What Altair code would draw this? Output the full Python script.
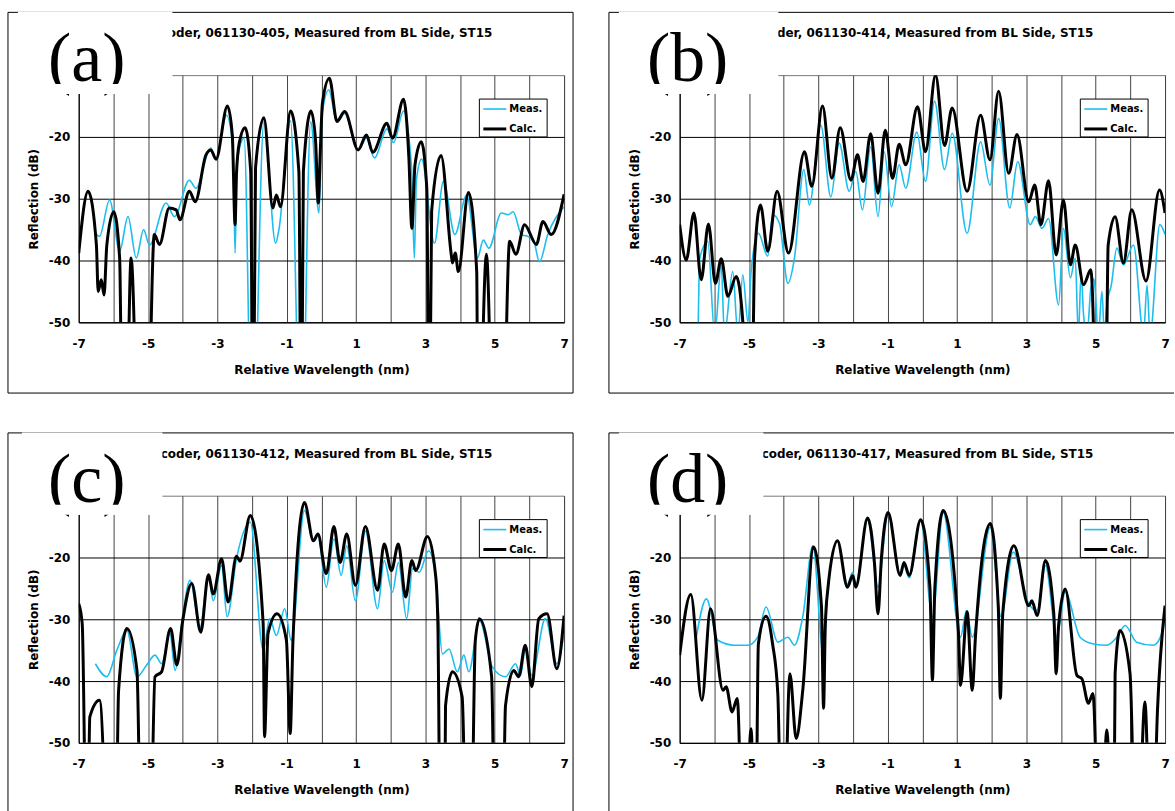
import altair as alt
import pandas as pd

# ---------------- data (relative wavelength in nm, reflection in dB; values below -50 lie off the chart) ----------------
A_CALC_NM = [-7.00,-6.73,-6.49,-6.44,-6.35,-6.27,-6.19,-5.99,-5.82,-5.73,-5.65,-5.49,-5.25,-5.04,-4.82,
             -4.67,-4.39,-4.19,-4.08,-3.81,-3.64,-3.33,-3.19,-3.04,-2.71,-2.57,-2.49,-2.45,-2.37,-2.20,-2.04,-1.97,-1.90,-1.66,-1.40,
             -1.30,-1.18,-0.89,-0.65,-0.58,-0.52,-0.30,-0.17,-0.09,-0.03,0.03,0.23,0.45,0.67,1.06,1.30,1.48,1.89,2.05,2.37,2.52,
             2.61,2.70,2.88,3.04,3.11,3.18,3.45,3.74,3.78,3.86,3.95,4.24,4.48,4.52,4.76,4.98,5.21,5.43,
             5.61,5.86,6.20,6.39,6.63,7.00]
A_CALC_DB = [-38.8,-28.8,-37.5,-45.0,-43.1,-45.6,-37.5,-32.1,-39.6,-75,-75,-39.6,-75,-75,-35.8,
             -37.4,-31.5,-31.8,-33.4,-28.8,-30.5,-22.9,-22.1,-23.6,-15.0,-19.7,-34.2,-26.0,-21.0,-18.5,-25.6,-75,-25.0,-16.9,-31.5,
             -29.4,-31.3,-15.8,-25.6,-75,-25.6,-15.8,-20.5,-30.7,-22.0,-14.5,-10.5,-17.5,-15.9,-22.1,-19.7,-22.5,-17.8,-20.2,-13.9,-23.0,
             -34.8,-24.5,-20.8,-28.3,-75,-32.0,-23.0,-38.8,-40.4,-38.8,-41.8,-29.0,-41.8,-75,-39.0,-75,-75,-36.9,
             -39.0,-34.2,-37.4,-33.7,-35.8,-29.3]
A_MEAS_NM = [-6.54,-6.40,-6.11,-5.82,-5.58,-5.34,-5.13,-4.96,-4.48,-4.24,-3.81,-3.62,-3.19,-3.04,-2.74,
             -2.55,-2.49,-2.43,-2.23,-1.99,-1.66,-1.32,-1.22,-0.89,-0.58,-0.31,-0.07,0.03,0.21,0.45,0.67,1.06,1.30,
             1.53,1.89,2.08,2.37,2.60,2.68,2.74,2.89,3.26,3.52,3.85,4.19,4.50,4.67,4.83,5.19,5.39,
             5.53,5.77,5.96,6.10,6.29,6.53,7.00]
A_MEAS_DB = [-35.3,-36.1,-30.2,-38.5,-32.9,-39.6,-35.0,-37.5,-30.7,-32.9,-27.0,-28.3,-21.8,-23.5,-16.5,
             -22.0,-38.8,-24.0,-20.2,-75,-17.5,-37.2,-34.8,-17.4,-75,-17.5,-32.3,-16.0,-12.4,-17.5,-16.2,-22.1,-20.2,
             -23.4,-18.7,-20.9,-15.8,-25.0,-39.6,-27.0,-23.6,-37.2,-27.2,-35.8,-29.4,-39.6,-36.7,-38.0,-32.3,-32.6,
             -32.1,-35.8,-36.1,-36.4,-40.2,-35.8,-31.3]

B_CALC_NM = [-7.00,-6.81,-6.59,-6.38,-6.17,-5.97,-5.80,-5.61,-5.37,-5.18,-5.05,-4.94,-4.84,-4.67,-4.46,
             -4.19,-3.86,-3.40,-3.19,-2.88,-2.61,-2.37,-2.06,-1.87,-1.71,-1.49,-1.28,-1.07,-0.86,-0.67,
             -0.48,-0.14,0.09,0.38,0.64,0.86,1.29,1.68,1.95,2.20,2.49,2.73,3.07,3.24,3.42,
             3.64,3.86,4.07,4.27,4.41,4.65,4.86,5.08,5.27,5.36,5.56,5.80,6.04,6.45,6.84,7.00]
B_CALC_DB = [-34.2,-39.9,-32.3,-43.1,-34.1,-43.7,-39.7,-45.8,-42.6,-49.8,-75,-75,-39.6,-31.0,-38.5,
             -28.8,-38.8,-22.4,-28.0,-15.0,-26.7,-18.5,-27.0,-22.9,-27.2,-19.5,-29.1,-18.9,-26.7,-21.2,
             -24.5,-15.1,-22.4,-10.0,-21.4,-15.3,-28.8,-16.5,-23.7,-12.6,-25.9,-19.6,-30.5,-27.8,-34.2,
             -27.1,-39.1,-30.2,-40.7,-37.5,-43.9,-41.5,-75,-75,-37.5,-32.9,-40.4,-31.8,-43.3,-28.6,-32.3]
B_MEAS_NM = [-6.47,-6.42,-6.19,-5.99,-5.80,-5.71,-5.47,-5.32,-5.18,-5.03,-4.94,-4.73,-4.46,-4.32,-4.12,
             -3.88,-3.69,-3.42,-3.26,-2.93,-2.64,-2.40,-2.11,-1.92,-1.73,-1.49,-1.28,-1.10,-0.89,-0.67,
             -0.48,-0.16,0.09,0.35,0.64,0.86,1.29,1.68,1.95,2.20,2.52,2.75,3.11,3.26,3.45,
             3.64,3.93,4.07,4.27,4.41,4.50,4.58,4.65,4.75,4.86,4.95,5.08,5.18,5.25,5.32,5.45,5.61,5.80,6.09,6.38,6.48,6.57,6.85,7.00]
B_MEAS_DB = [-52,-39.6,-36.9,-52,-40.7,-52,-41.8,-52,-42.3,-50,-41.8,-35.6,-39.3,-32.6,-34.0,
             -43.7,-39.6,-25.3,-31.0,-18.1,-29.7,-21.0,-28.8,-25.6,-31.8,-21.6,-32.9,-22.4,-31.3,-24.5,
             -28.3,-19.2,-27.2,-14.2,-25.3,-19.4,-35.6,-20.8,-27.8,-17.0,-31.5,-24.0,-34.2,-32.9,-34.8,
             -33.2,-47.2,-34.8,-42.8,-39.6,-52,-42.0,-48.8,-52,-44.5,-43.0,-52,-45.0,-52,-47.2,-44.0,-38.0,-40.7,-37.5,-52,-44.0,-52,-34.2,-35.8]

C_CALC_NM = [-7.00,-6.90,-6.76,-6.68,-6.40,-6.09,-5.95,-5.85,-5.61,-5.32,-5.18,-4.96,-4.80,-4.61,-4.35,
             -4.17,-4.00,-3.74,-3.48,-3.26,-3.12,-2.88,-2.69,-2.45,-2.35,-2.05,-1.68,-1.64,-1.54,-1.28,
             -1.01,-0.90,-0.82,-0.49,-0.23,-0.10,0.14,0.36,0.54,0.73,0.98,1.27,1.62,1.81,2.02,
             2.22,2.43,2.61,2.72,3.06,3.30,3.36,3.44,3.54,3.58,3.78,4.06,4.21,4.30,4.44,4.56,4.91,5.02,
             5.21,5.31,5.55,5.69,5.88,6.07,6.27,6.51,6.79,7.00]
C_CALC_DB = [-27.5,-30.7,-75,-45.8,-43.1,-75,-75,-41.5,-31.5,-38.3,-75,-75,-39.3,-38.5,-31.5,
             -37.4,-30.2,-24.2,-32.1,-22.8,-25.9,-20.2,-27.2,-19.8,-20.6,-13.2,-30.7,-49.0,-32.3,-29.1,
             -33.4,-48.5,-33.4,-11.1,-17.3,-16.2,-22.6,-15.0,-20.8,-16.2,-24.5,-15.0,-25.3,-17.8,-22.1,
             -17.8,-26.4,-20.5,-22.1,-16.6,-23.2,-31.0,-75,-75,-44.0,-38.5,-42.6,-75,-75,-33.4,-29.9,-39.3,-75,
             -75,-44.0,-38.3,-39.3,-34.2,-40.9,-29.9,-29.1,-38.0,-29.4]
C_MEAS_NM = [-6.52,-6.19,-5.90,-5.61,-5.32,-5.04,-4.80,-4.61,-4.37,-4.22,-4.03,-3.79,-3.50,-3.26,-3.12,
             -2.88,-2.72,-2.45,-2.05,-1.68,-1.49,-1.30,-1.06,-0.87,-0.49,-0.23,-0.10,0.14,0.36,0.57,
             0.73,0.98,1.27,1.62,1.81,2.05,2.22,2.46,2.63,2.82,3.09,3.30,3.49,3.68,3.92,
             4.11,4.25,4.56,4.93,5.31,5.60,5.74,5.88,6.07,6.46,6.79,7.00]
C_MEAS_DB = [-37.2,-39.3,-35.0,-31.8,-39.3,-37.4,-35.8,-37.2,-32.3,-38.3,-30.7,-23.7,-31.3,-22.9,-27.0,
             -21.3,-29.6,-20.2,-14.3,-35.0,-29.9,-32.6,-28.3,-33.4,-12.4,-17.3,-16.5,-24.8,-17.0,-22.9,
             -18.1,-27.0,-15.7,-28.3,-20.5,-25.6,-20.8,-29.9,-21.8,-22.4,-18.9,-23.2,-35.6,-34.8,-38.5,
             -35.8,-38.5,-30.2,-37.7,-39.3,-37.2,-39.1,-35.0,-39.1,-29.9,-37.2,-32.3]

D_CALC_NM = [-7.00,-6.68,-6.36,-6.11,-5.75,-5.66,-5.49,-5.34,-5.15,-4.94,-4.82,-4.73,-4.51,-4.32,-4.17,-4.03,-3.82,-3.64,
             -3.45,-3.14,-2.91,-2.85,-2.80,-2.73,-2.45,-2.16,-2.01,-1.92,-1.58,-1.38,-1.28,-1.18,-0.99,-0.64,-0.53,-0.38,-0.05,
             0.22,0.29,0.36,0.60,1.04,1.10,1.29,1.44,1.53,1.96,2.19,2.25,2.32,2.64,3.07,3.16,3.31,3.55,3.79,3.86,3.93,4.12,4.46,
             4.60,4.79,4.92,5.13,5.32,5.51,5.56,5.70,5.99,6.18,6.42,6.61,6.78,7.00]
D_CALC_DB = [-35.8,-26.0,-43.1,-28.3,-41.5,-40.9,-45.0,-42.8,-75,-47.7,-75,-34.0,-29.5,-34.0,-42.0,-75,-38.8,-49.3,
             -41.5,-18.3,-28.0,-44.4,-31.0,-25.3,-17.3,-24.8,-22.9,-24.8,-13.6,-21.0,-29.1,-20.0,-12.7,-22.9,-20.8,-22.9,-13.9,
             -25.0,-39.9,-25.0,-12.4,-32.0,-40.7,-28.8,-41.5,-33.0,-14.5,-28.0,-42.8,-29.0,-18.1,-27.8,-27.0,-29.4,-20.5,-29.0,-38.8,-31.0,-25.1,-39.1,
             -39.6,-43.6,-42.0,-75,-47.9,-75,-38.8,-31.8,-38.8,-75,-43.4,-75,-45.0,-27.8]
D_MEAS_NM = [-6.52,-6.23,-5.90,-5.42,-5.03,-4.75,-4.51,-4.17,-3.88,-3.69,-3.45,-3.16,-2.85,-2.73,-2.45,
             -2.16,-2.01,-1.92,-1.58,-1.28,-0.99,-0.64,-0.53,-0.38,-0.05,0.29,0.60,1.10,1.27,1.44,
             1.96,2.27,2.62,3.07,3.31,3.55,3.88,4.12,4.55,4.94,5.32,5.61,5.85,6.18,6.66,6.85,7.00]
D_MEAS_DB = [-32.9,-26.7,-33.4,-34.2,-34.2,-32.9,-28.0,-33.7,-32.9,-34.2,-29.6,-18.1,-36.1,-25.3,-17.3,
             -24.3,-22.4,-24.3,-13.8,-24.8,-12.9,-22.6,-21.3,-23.3,-14.0,-29.6,-12.7,-32.9,-28.6,-32.9,
             -15.1,-29.6,-19.1,-27.5,-28.6,-21.3,-32.9,-25.6,-32.9,-34.0,-34.2,-32.9,-31.0,-33.7,-34.2,-33.1,-30.2]

X_GRID = list(range(-7, 8))
Y_TICKS = [-50, -40, -30, -20]
SAMPLES = ["061130-405", "061130-414", "061130-412", "061130-417"]
LETTERS = ["(a)", "(b)", "(c)", "(d)"]
LEGEND_LABELS = ["Meas.", "Calc."]

CYAN = "#1BBEEE"
FONT = "DejaVu Sans"
W, H = 487, 248
BL, BR, BT, BB = -71, 496, -63, 319


def make_panel(letter, sample, meas_nm, meas_db, calc_nm, calc_db, box_left, box_right, sides):
    assert len(meas_nm) == len(meas_db)
    assert len(calc_nm) == len(calc_db)
    meas = pd.DataFrame({"nm": meas_nm, "dB": meas_db})
    calc = pd.DataFrame({"nm": calc_nm, "dB": calc_db})
    one = pd.DataFrame({"k": [0]})

    xs = alt.Scale(domain=[-7, 7], nice=False, zero=False)
    ys = alt.Scale(domain=[-50, -10], nice=False, zero=False)
    xax = alt.Axis(values=X_GRID, labelExpr="datum.value % 2 != 0 ? '' + datum.value : ''",
                   title="Relative Wavelength (nm)", grid=True, gridColor="#444444",
                   labelFlush=False, labelOverlap=False, labelPadding=16, titlePadding=15,
                   ticks=False, domainColor="black")
    yax = alt.Axis(values=Y_TICKS, labelExpr="'' + datum.value", title="Reflection (dB)",
                   grid=True, gridColor="black", labelPadding=9, titlePadding=8,
                   ticks=False, domainColor="black")
    X = alt.X("nm:Q", scale=xs, axis=xax)
    Y = alt.Y("dB:Q", scale=ys, axis=yax)

    meas_line = alt.Chart(meas).mark_line(color=CYAN, strokeWidth=1.6, clip=True,
                                          interpolate="monotone").encode(x=X, y=Y)
    calc_line = alt.Chart(calc).mark_line(color="black", strokeWidth=3, clip=True,
                                          interpolate="monotone").encode(x=X, y=Y)

    layers = [meas_line, calc_line]
    rule = alt.Chart(one).mark_rule(color="black", strokeWidth=1)
    if "l" in sides:
        layers.append(rule.encode(x=alt.value(BL), y=alt.value(BT), y2=alt.value(BB)))
    if "r" in sides:
        layers.append(rule.encode(x=alt.value(BR), y=alt.value(BT), y2=alt.value(BB)))
    if "t" in sides:
        layers.append(rule.encode(x=alt.value(BL), x2=alt.value(BR), y=alt.value(BT)))
    if "b" in sides:
        layers.append(rule.encode(x=alt.value(BL), x2=alt.value(BR), y=alt.value(BB)))

    title = alt.Chart(one).mark_text(align="right", baseline="middle", font=FONT, fontSize=12,
                                     fontWeight="bold", color="black").encode(
        x=alt.value(415), y=alt.value(-42),
        text=alt.value("Encoder, " + sample + ", Measured from BL Side, ST15"))
    white = alt.Chart(one).mark_rect(color="white").encode(
        x=alt.value(box_left), x2=alt.value(box_right), y=alt.value(BT - 0.5), y2=alt.value(19))
    label = alt.Chart(one).mark_text(align="center", baseline="alphabetic", font="Liberation Serif",
                                     fontSize=70, color="black").encode(
        x=alt.value(8), y=alt.value(6), text=alt.value(letter))
    strip = alt.Chart(one).mark_rect(color="white").encode(
        x=alt.value(box_left), x2=alt.value(box_right), y=alt.value(9), y2=alt.value(19))

    leg_box = alt.Chart(one).mark_rect(fill="white", stroke="black", strokeWidth=1).encode(
        x=alt.value(402), x2=alt.value(470), y=alt.value(24), y2=alt.value(62))
    leg_meas = alt.Chart(one).mark_rule(color=CYAN, strokeWidth=1.6).encode(
        x=alt.value(406), x2=alt.value(429), y=alt.value(34))
    leg_calc = alt.Chart(one).mark_rule(color="black", strokeWidth=3).encode(
        x=alt.value(406), x2=alt.value(429), y=alt.value(54))
    leg_t1 = alt.Chart(one).mark_text(align="left", baseline="middle", font=FONT, fontSize=10,
                                      fontWeight="bold", color="black").encode(
        x=alt.value(432), y=alt.value(34), text=alt.value(LEGEND_LABELS[0]))
    leg_t2 = alt.Chart(one).mark_text(align="left", baseline="middle", font=FONT, fontSize=10,
                                      fontWeight="bold", color="black").encode(
        x=alt.value(432), y=alt.value(54), text=alt.value(LEGEND_LABELS[1]))

    layers += [title, white, label, strip, leg_box, leg_meas, leg_calc, leg_t1, leg_t2]
    return alt.layer(*layers).properties(width=W, height=H)


pa = make_panel(LETTERS[0], SAMPLES[0], A_MEAS_NM, A_MEAS_DB, A_CALC_NM, A_CALC_DB, -61, 94, "lrtb")
pb = make_panel(LETTERS[1], SAMPLES[1], B_MEAS_NM, B_MEAS_DB, B_CALC_NM, B_CALC_DB, -61, 99, "ltb")
pc = make_panel(LETTERS[2], SAMPLES[2], C_MEAS_NM, C_MEAS_DB, C_CALC_NM, C_CALC_DB, -57, 84, "lrt")
pd_ = make_panel(LETTERS[3], SAMPLES[3], D_MEAS_NM, D_MEAS_DB, D_CALC_NM, D_CALC_DB, -61, 84, "lt")

top = alt.hconcat(pa, pb, spacing=34)
bottom = alt.hconcat(pc, pd_, spacing=34)
chart = alt.vconcat(top, bottom, spacing=38).properties(
    padding={"left": 7, "top": 10, "right": 0, "bottom": 0},
    background="white",
).configure_view(stroke="#777777", strokeWidth=1).configure_axis(
    labelFont=FONT, labelFontSize=12, labelFontWeight="bold", labelColor="black",
    titleFont=FONT, titleFontSize=12, titleFontWeight="bold", titleColor="black",
    domainColor="black", domainWidth=1, gridWidth=1, gridOpacity=1,
)

chart.save("out.html", embed_options={"renderer": "svg", "actions": False})
